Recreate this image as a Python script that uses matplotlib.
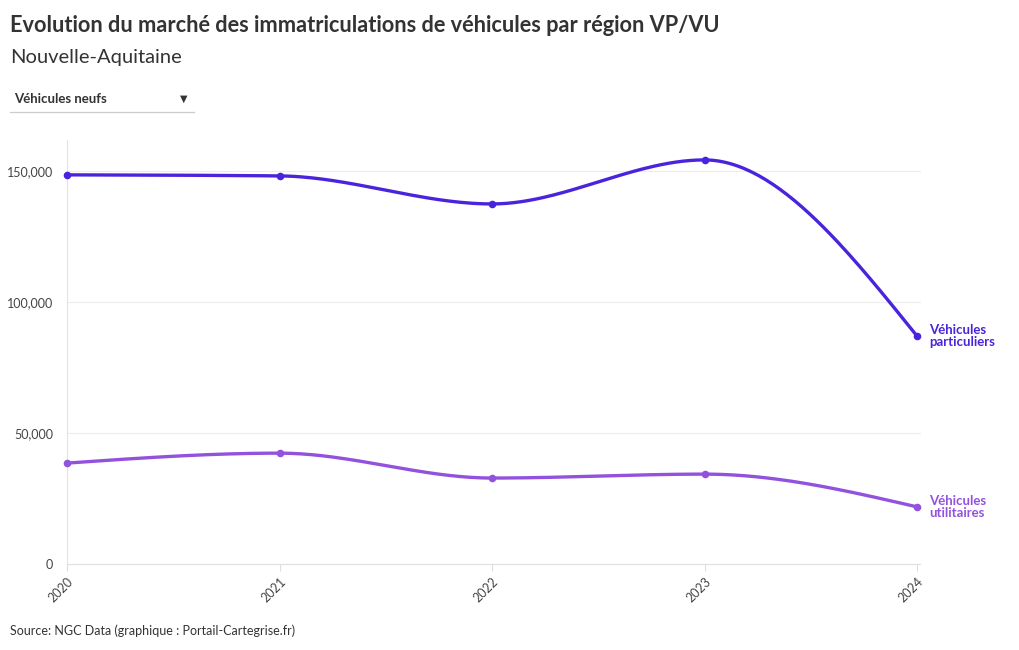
import numpy as np
import matplotlib
matplotlib.use("Agg")
import matplotlib.pyplot as plt
from matplotlib.ticker import FuncFormatter

years = [2020, 2021, 2022, 2023, 2024]
vp = [148500, 148100, 137400, 154200, 87000]
vu = [38500, 42300, 32800, 34300, 21800]
series_names = ["Véhicules\nparticuliers", "Véhicules\nutilitaires"]
colors = ["#4a24dc", "#9352de"]

plt.rcParams['font.family'] = ['Lato', 'DejaVu Sans']

def monotone(x, y, n=60):
    x = np.asarray(x, float); y = np.asarray(y, float)
    h = np.diff(x); d = np.diff(y) / h
    m = np.zeros_like(y)
    for i in range(1, len(y) - 1):
        if d[i-1] * d[i] <= 0:
            m[i] = 0
        else:
            w1 = 2*h[i] + h[i-1]; w2 = h[i] + 2*h[i-1]
            m[i] = (w1 + w2) / (w1/d[i-1] + w2/d[i])
    m[0] = (3*d[0] - m[1]) / 2
    m[-1] = (3*d[-1] - m[-2]) / 2
    xs, ys = [], []
    for i in range(len(h)):
        t = np.linspace(0, 1, n)
        h00 = 2*t**3 - 3*t**2 + 1; h10 = t**3 - 2*t**2 + t
        h01 = -2*t**3 + 3*t**2; h11 = t**3 - t**2
        xs.append(x[i] + t*h[i])
        ys.append(h00*y[i] + h10*h[i]*m[i] + h01*y[i+1] + h11*h[i]*m[i+1])
    return np.concatenate(xs), np.concatenate(ys)

fig = plt.figure(figsize=(10.2, 6.5), dpi=100)
ax = fig.add_axes([67/1020, 1 - 564/650, 850/1020, (564-140)/650])

for vals, name, c in zip([vp, vu], series_names, colors):
    xs, ys = monotone(years, vals)
    ax.plot(xs, ys, color=c, lw=2.4, solid_capstyle='round', zorder=3, clip_on=False)
    ax.scatter(years, vals, s=30, color=c, zorder=4, linewidths=0, clip_on=False)
    ax.annotate(name, xy=(years[-1], vals[-1]), xytext=(8.6, 0), textcoords='offset points',
                ha='left', va='center', multialignment='left', color=c, fontsize=9.5,
                fontweight='bold', linespacing=0.95)

ax.set_xlim(2020, 2024)
ax.set_ylim(0, 161800)
ax.set_yticks([0, 50000, 100000, 150000])
ax.yaxis.set_major_formatter(FuncFormatter(lambda v, p: f"{int(v):,}"))
ax.set_xticks(years)
ax.set_xticklabels([str(y) for y in years], rotation=45, ha='right', rotation_mode='anchor')
ax.tick_params(axis='y', length=0, pad=10, labelsize=9, labelcolor='#444444')
ax.tick_params(axis='x', length=5, width=0.8, color='#dddddd', pad=3, labelsize=9, labelcolor='#444444')
for y in [50000, 100000, 150000]:
    ax.plot([2020, 2024.015], [y, y], color='#ececec', lw=0.8, zorder=1, clip_on=False)
ax.plot([2020, 2024.015], [0, 0], color='#e2e2e2', lw=0.9, zorder=1, clip_on=False)
for s in ['top', 'right', 'bottom']:
    ax.spines[s].set_visible(False)
ax.spines['left'].set_color('#e4e4e4')
ax.spines['left'].set_linewidth(0.8)
ax.set_facecolor('none')

fig.text(10/1020, 1 - 26/650, "Evolution du marché des immatriculations de véhicules par région VP/VU",
         fontsize=15.7, fontweight='bold', color='#333333', va='center', ha='left')
fig.text(10/1020, 1 - 58/650, "Nouvelle-Aquitaine", fontsize=14.5, color='#333333', va='center', ha='left')
fig.text(14/1020, 1 - 99/650, "Véhicules neufs", fontsize=9.5, fontweight='bold', color='#333333', va='center', ha='left')
fig.text(184/1020, 1 - 99/650, "▼", fontsize=7, color='#333333', va='center', ha='center', family='DejaVu Sans')
fig.add_artist(plt.Line2D([10/1020, 194/1020], [1 - 112/650, 1 - 112/650], color='#cccccc', lw=0.9))
fig.text(10/1020, 1 - 631/650, "Source: NGC Data (graphique : Portail-Cartegrise.fr)", fontsize=9, color='#333333', va='center', ha='left')

fig.savefig("out.png", dpi=100, facecolor='white')
